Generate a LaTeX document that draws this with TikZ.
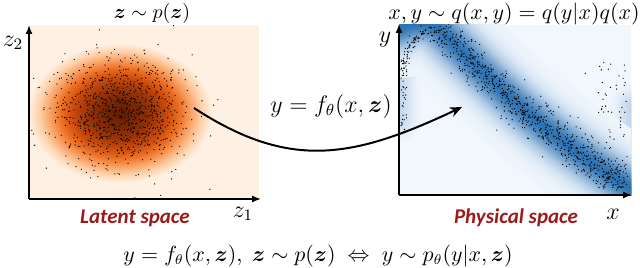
\documentclass[tikz,border=0pt]{standalone}
\usepackage{amsmath,bm}
\usepackage{fontspec}
\newfontfamily\labelfont{Carlito}
\usetikzlibrary{arrows.meta}
\definecolor{orbg}{HTML}{FEF1E4}
\definecolor{or0}{HTML}{5E1E04}
\definecolor{or1}{HTML}{7A2805}
\definecolor{or2}{HTML}{9C3506}
\definecolor{or3}{HTML}{CC4C0C}
\definecolor{or4}{HTML}{EC6E22}
\definecolor{or5}{HTML}{F9A061}
\definecolor{or6}{HTML}{FDD1AA}
\definecolor{blbg}{HTML}{F1F7FD}
\definecolor{bandc}{HTML}{1A66AC}
\definecolor{spacered}{HTML}{9B1B1B}
\pgfdeclareradialshading{blob}{\pgfpoint{0bp}{0bp}}{color(0bp)=(or0); color(5bp)=(or1); color(9bp)=(or2); color(13bp)=(or3); color(16bp)=(or4); color(19bp)=(or5); color(22bp)=(or6); color(25bp)=(orbg); color(50bp)=(orbg)}
\begin{document}
\begin{tikzpicture}[x=0.5pt,y=-0.5pt,
  axisline/.style={line width=0.7pt, -{Latex[length=4.5pt,width=3.5pt]}},
  mtext/.style={font=\fontsize{11.5}{13}\selectfont, inner sep=0pt},
  stext/.style={font=\fontsize{10.6}{12}\selectfont, inner sep=0pt},
  spacelabel/.style={font=\labelfont\bfseries\itshape\fontsize{10.5}{12}\selectfont, text=spacered, inner sep=0pt},
  sdot/.style={fill=black},
  maparrow/.style={line width=1pt, -{Stealth[length=6pt,width=5pt]}}]
\useasboundingbox (0,0) rectangle (640,267);
\pgfmathsetseed{7}
% ---------- left plot ----------
\fill[orbg] (29,25) rectangle (259,199);
\begin{scope}
  \clip (29,25) rectangle (259,199);
  \shade[shading=blob] (120,113) ellipse (92 and 70);
  \foreach \i in {1,...,900}{%
    \pgfmathsetmacro\rr{sqrt(-2*ln(0.0005+0.999*rnd))}%
    \pgfmathsetmacro\aa{360*rnd}%
    \fill[sdot] ({120+34*\rr*cos(\aa)},{113+27*\rr*sin(\aa)}) circle (0.33pt);
  }
\end{scope}
\coordinate (lo) at (29,199);
\coordinate (ly) at (29,25);
\coordinate (lx) at (261,199);
\draw[axisline] (lo) -- (ly);
\draw[axisline] (lo) -- (lx);
\node[mtext] (z2) at (13,43) {$z_2$};
\node[mtext] (z1) at (243,214) {$z_1$};
\node[stext, font=\fontsize{10}{12}\selectfont] (ltitle) at (152,14) {$\bm{z}\sim p(\bm{z})$};
\node[spacelabel] (latent) at (135,218) {Latent space};
% ---------- right plot ----------
\fill[blbg] (399,25) rectangle (631,195);
\begin{scope}
  \clip (399,25) rectangle (631,195);
  \foreach \k in {1,...,10}{%
    \pgfmathsetmacro\dd{24-2.2*\k}%
    \pgfmathtruncatemacro\pc{24*exp(-(\dd/14)^2)}%
    \draw[color=bandc!\pc!blbg, line width={2*\dd*0.5pt}, line cap=round] (399,45) -- (399,120);
    \draw[color=bandc!\pc!blbg, line width={2*\dd*0.5pt}, line cap=round] (632,105) -- (632,200);
  }
  \foreach \k in {1,...,28}{%
    \pgfmathsetmacro\dd{52-1.8*\k}%
    \pgfmathtruncatemacro\pc{84*exp(-(\dd/20)^2)+8*exp(-(\dd/40)^2)}%
    \draw[color=bandc!\pc!blbg, line width={2*\dd*0.5pt}, line join=round, line cap=round]
      (399,28) .. controls (412,22) and (428,20) .. (440,30)
      -- plot[domain=0:1.1,samples=34] ({440+185*\x},{30+155*\x+10*sin(180*\x)});
  }
  % dots along the band
  \foreach \i in {1,...,750}{%
    \pgfmathsetmacro\tp{rnd}%
    \pgfmathsetmacro\ga{sqrt(-2*ln(0.0005+0.999*rnd))*cos(360*rnd)}%
    \pgfmathsetmacro\gb{sqrt(-2*ln(0.0005+0.999*rnd))*cos(360*rnd)}%
    \fill[sdot] ({440+185*\tp-5*\ga+2*\gb},{30+155*\tp+10*sin(180*\tp)+6*\ga}) circle (0.33pt);
  }
  % hook at top left
  \foreach \i in {1,...,90}{%
    \pgfmathsetmacro\sp{rnd}%
    \pgfmathsetmacro\ga{sqrt(-2*ln(0.0005+0.999*rnd))*cos(360*rnd)}%
    \pgfmathsetmacro\gb{sqrt(-2*ln(0.0005+0.999*rnd))*cos(360*rnd)}%
    \fill[sdot] ({(1-\sp)^2*404+2*\sp*(1-\sp)*408+\sp^2*440+2.5*\ga},{(1-\sp)^2*70+2*\sp*(1-\sp)*28+\sp^2*30+3*\gb}) circle (0.33pt);
  }
  % left edge
  \foreach \i in {1,...,35}{%
    \fill[sdot] ({401+6*rnd},{60+70*rnd}) circle (0.33pt);
  }
  % right edge
  \foreach \i in {1,...,60}{%
    \fill[sdot] ({598+30*rnd},{62+125*rnd}) circle (0.33pt);
  }
  % scattered
  \foreach \i in {1,...,10}{%
    \fill[sdot] ({430+180*rnd},{50+130*rnd}) circle (0.33pt);
  }
\end{scope}
\coordinate (ro) at (399,195);
\coordinate (ry) at (399,24);
\coordinate (rx) at (632,195);
\draw[axisline] (ro) -- (ry);
\draw[axisline] (ro) -- (rx);
\node[mtext] (ylab) at (385,40) {$y$};
\node[mtext] (xlab) at (613,214) {$x$};
\node[stext] (rtitle) at (514,14) {$x,y\sim q(x,y)=q(y|x)q(x)$};
\node[spacelabel] (physical) at (516,218) {Physical space};
% ---------- mapping ----------
\coordinate (a1) at (194,108);
\coordinate (a2) at (462,107);
\draw[maparrow] (a1) .. controls (289,170) and (352,159) .. (a2);
\node[mtext] (fmap) at (331,106) {$y=f_\theta(x,\bm{z})$};
\node[stext] (eq) at (318,256) {$y=f_\theta(x,\bm{z}),\;\bm{z}\sim p(\bm{z})\;\Leftrightarrow\;y\sim p_\theta(y|x,\bm{z})$};
\end{tikzpicture}
\end{document}
